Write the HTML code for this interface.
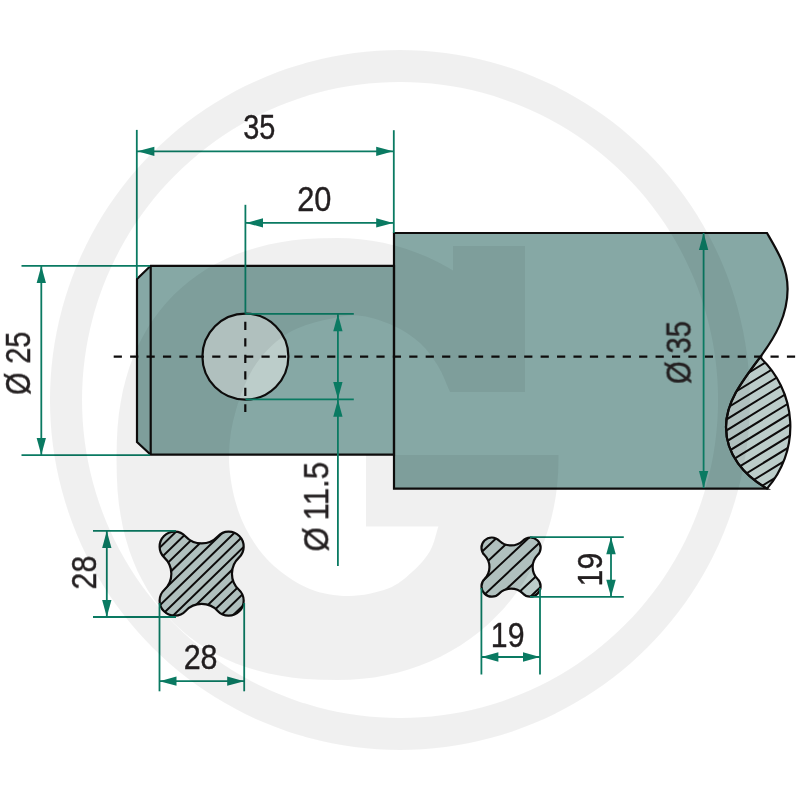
<!DOCTYPE html>
<html lang="en">
<head>
<meta charset="utf-8">
<title>Drawing</title>
<style>
html,body{margin:0;padding:0;background:#fff;}
body{width:800px;height:800px;overflow:hidden;}
svg{display:block;}
</style>
</head>
<body>
<svg width="800" height="800" viewBox="0 0 800 800">
<defs>
<clipPath id="cb"><path d="M217.71,536.39 A15.00,15.00 0 1 1 238.91,557.59 A22.00,22.00 0 0 0 238.91,589.71 A15.00,15.00 0 1 1 217.71,610.91 A22.00,22.00 0 0 0 185.59,610.91 A15.00,15.00 0 1 1 164.39,589.71 A22.00,22.00 0 0 0 164.39,557.59 A15.00,15.00 0 1 1 185.59,536.39 A22.00,22.00 0 0 0 217.71,536.39 Z"/></clipPath>
<clipPath id="cs"><path d="M522.82,540.72 A10.30,10.30 0 1 1 537.38,555.28 A17.00,17.00 0 0 0 537.38,578.82 A10.30,10.30 0 1 1 522.82,593.38 A17.00,17.00 0 0 0 499.28,593.38 A10.30,10.30 0 1 1 484.72,578.82 A17.00,17.00 0 0 0 484.72,555.28 A10.30,10.30 0 1 1 499.28,540.72 A17.00,17.00 0 0 0 522.82,540.72 Z"/></clipPath>
<clipPath id="cl"><path d="M760,357.3 A94.2,94.2 0 0 1 767,488.6 C744.4,475.6 726,455 726,427 C726,402 742,381.3 760,357.3 Z"/></clipPath>
</defs>
<rect width="800" height="800" fill="#fff"/>
<path d="M150.7,265.8 L394,265.8 L394,454.7 L150.7,454.7 L137,442 L137,279 Z" fill="#86a8a5"/>
<path d="M394,233 L767,233 C778,252 787.6,267 787.6,289 C787.6,315 775.6,336.5 760,357.3 C742,381.3 726,402 726,427 C726,455 744.4,475.6 767,488.6 L394,488.6 Z" fill="#86a8a5"/>
<circle cx="245.4" cy="356.6" r="43" fill="#bccdca"/>
<path d="M760,357.3 A94.2,94.2 0 0 1 767,488.6 C744.4,475.6 726,455 726,427 C726,402 742,381.3 760,357.3 Z" fill="#bccdca"/>
<path d="M217.71,536.39 A15.00,15.00 0 1 1 238.91,557.59 A22.00,22.00 0 0 0 238.91,589.71 A15.00,15.00 0 1 1 217.71,610.91 A22.00,22.00 0 0 0 185.59,610.91 A15.00,15.00 0 1 1 164.39,589.71 A22.00,22.00 0 0 0 164.39,557.59 A15.00,15.00 0 1 1 185.59,536.39 A22.00,22.00 0 0 0 217.71,536.39 Z" fill="#bccdca"/>
<path d="M522.82,540.72 A10.30,10.30 0 1 1 537.38,555.28 A17.00,17.00 0 0 0 537.38,578.82 A10.30,10.30 0 1 1 522.82,593.38 A17.00,17.00 0 0 0 499.28,593.38 A10.30,10.30 0 1 1 484.72,578.82 A17.00,17.00 0 0 0 484.72,555.28 A10.30,10.30 0 1 1 499.28,540.72 A17.00,17.00 0 0 0 522.82,540.72 Z" fill="#bccdca"/>
<g stroke="#0e0c0c" stroke-width="2" fill="none">
<path clip-path="url(#cb)" d="M94.36,564.83 L195.31,466.66 M100.14,570.78 L201.10,472.61 M105.93,576.73 L206.88,478.56 M111.72,582.68 L212.67,484.51 M117.50,588.63 L218.46,490.46 M123.29,594.58 L224.24,496.41 M129.08,600.53 L230.03,502.36 M134.86,606.48 L235.82,508.31 M140.65,612.43 L241.60,514.26 M146.44,618.38 L247.39,520.21 M152.22,624.33 L253.18,526.16 M158.01,630.28 L258.96,532.11 M163.79,636.23 L264.75,538.06 M169.58,642.18 L270.53,544.01 M175.37,648.13 L276.32,549.96 M181.15,654.08 L282.11,555.91 M186.94,660.04 L287.89,561.86 M192.73,665.99 L293.68,567.81 M198.51,671.94 L299.47,573.76 M204.30,677.89 L305.25,579.71 M210.09,683.84 L311.04,585.66"/>
<path clip-path="url(#cs)" d="M429.48,555.67 L504.81,484.93 M437.01,563.68 L512.34,492.94 M444.54,571.70 L519.87,500.96 M452.07,579.72 L527.40,508.98 M459.60,587.74 L534.93,517.00 M467.13,595.76 L542.46,525.02 M474.66,603.78 L549.99,533.04 M482.19,611.80 L557.52,541.06 M489.72,619.81 L565.05,549.07 M497.25,627.83 L572.58,557.09 M504.78,635.85 L580.11,565.11 M512.31,643.87 L587.64,573.13 M519.84,651.89 L595.17,581.15"/>
<path clip-path="url(#cl)" d="M644.15,392.69 L783.13,307.53 M649.06,400.71 L788.04,315.54 M653.97,408.72 L792.95,323.56 M658.88,416.74 L797.86,331.57 M663.80,424.75 L802.78,339.59 M668.71,432.77 L807.69,347.60 M673.62,440.78 L812.60,355.62 M678.53,448.80 L817.51,363.63 M683.44,456.81 L822.42,371.65 M688.35,464.83 L827.33,379.66 M693.26,472.84 L832.25,387.68 M698.18,480.86 L837.16,395.69 M703.09,488.87 L842.07,403.71 M708.00,496.89 L846.98,411.72 M712.91,504.90 L851.89,419.73 M717.82,512.92 L856.80,427.75 M722.73,520.93 L861.71,435.76 M727.65,528.95 L866.63,443.78 M732.56,536.96 L871.54,451.79 M737.47,544.98 L876.45,459.81 M742.38,552.99 L881.36,467.82"/>
</g>
<g stroke="#0e0c0c" stroke-width="2.2" fill="none" stroke-linejoin="miter">
<path d="M150.7,265.8 L394,265.8 L394,454.7 L150.7,454.7 L137,442 L137,279 Z"/>
<path d="M150.7,265.8 L150.7,454.7"/>
<path d="M394,233 L767,233 C778,252 787.6,267 787.6,289 C787.6,315 775.6,336.5 760,357.3 C742,381.3 726,402 726,427 C726,455 744.4,475.6 767,488.6 L394,488.6 Z"/>
<path d="M760,357.3 A94.2,94.2 0 0 1 767,488.6 C744.4,475.6 726,455 726,427 C726,402 742,381.3 760,357.3 Z"/>
<circle cx="245.4" cy="356.6" r="43"/>
<path d="M217.71,536.39 A15.00,15.00 0 1 1 238.91,557.59 A22.00,22.00 0 0 0 238.91,589.71 A15.00,15.00 0 1 1 217.71,610.91 A22.00,22.00 0 0 0 185.59,610.91 A15.00,15.00 0 1 1 164.39,589.71 A22.00,22.00 0 0 0 164.39,557.59 A15.00,15.00 0 1 1 185.59,536.39 A22.00,22.00 0 0 0 217.71,536.39 Z"/>
<path d="M522.82,540.72 A10.30,10.30 0 1 1 537.38,555.28 A17.00,17.00 0 0 0 537.38,578.82 A10.30,10.30 0 1 1 522.82,593.38 A17.00,17.00 0 0 0 499.28,593.38 A10.30,10.30 0 1 1 484.72,578.82 A17.00,17.00 0 0 0 484.72,555.28 A10.30,10.30 0 1 1 499.28,540.72 A17.00,17.00 0 0 0 522.82,540.72 Z"/>
</g>
<g stroke="#0e0c0c" stroke-width="2.2" fill="none">
<path stroke-dasharray="8.2 8.22" d="M113.7,356.7 L796,356.7"/>
<path stroke-dasharray="8.25 8.25" d="M245.3,321.75 L245.3,412"/>
</g>
<g stroke="#0a7a62" stroke-width="1.8" fill="none">
<path d="M136.8,129.9 L136.8,278"/>
<path d="M393.8,130.2 L393.8,233"/>
<path d="M137,151.3 L393.5,151.3"/>
<path d="M245.4,204.8 L245.4,313.6"/>
<path d="M246,222.9 L393.5,222.9"/>
<path d="M21.5,265.9 L150,265.9"/>
<path d="M21.5,455.1 L150,455.1"/>
<path d="M41.3,266 L41.3,455"/>
<path d="M245.5,313.8 L353.8,313.8"/>
<path d="M245.5,399.3 L353.8,399.3"/>
<path d="M337.9,313.8 L337.9,566"/>
<path d="M703.6,233 L703.6,488"/>
<path d="M93,530.8 L176,530.8"/>
<path d="M93,617 L176,617"/>
<path d="M106.8,531 L106.8,617"/>
<path d="M159.5,603 L159.5,691.3"/>
<path d="M244.2,603 L244.2,691.3"/>
<path d="M159.5,681.2 L244.2,681.2"/>
<path d="M530,537.2 L623.8,537.2"/>
<path d="M530,596.8 L623.8,596.8"/>
<path d="M611,537 L611,597"/>
<path d="M481.4,588 L481.4,674.5"/>
<path d="M540,588 L540,674.5"/>
<path d="M481.4,657 L540,657"/>
</g>
<g fill="#0a7a62">
<polygon points="137.40,151.30 154.40,146.65 154.40,155.95"/>
<polygon points="393.20,151.30 376.20,146.65 376.20,155.95"/>
<polygon points="246.00,222.90 263.00,218.25 263.00,227.55"/>
<polygon points="393.20,222.90 376.20,218.25 376.20,227.55"/>
<polygon points="41.30,266.00 36.65,283.00 45.95,283.00"/>
<polygon points="41.30,455.00 36.65,438.00 45.95,438.00"/>
<polygon points="337.90,314.20 333.25,331.20 342.55,331.20"/>
<polygon points="337.90,398.90 333.25,381.90 342.55,381.90"/>
<polygon points="337.90,399.70 333.25,416.70 342.55,416.70"/>
<polygon points="703.60,233.00 698.95,250.00 708.25,250.00"/>
<polygon points="703.60,488.00 698.95,471.00 708.25,471.00"/>
<polygon points="106.80,531.00 102.15,548.00 111.45,548.00"/>
<polygon points="106.80,617.00 102.15,600.00 111.45,600.00"/>
<polygon points="159.50,681.20 176.50,676.55 176.50,685.85"/>
<polygon points="244.20,681.20 227.20,676.55 227.20,685.85"/>
<polygon points="611.00,537.20 606.25,554.20 615.75,554.20"/>
<polygon points="611.00,596.80 606.25,579.80 615.75,579.80"/>
<polygon points="481.40,657.00 498.40,652.35 498.40,661.65"/>
<polygon points="540.00,657.00 523.00,652.35 523.00,661.65"/>
</g>
<g fill="#231f20" font-family="'Liberation Sans', sans-serif" font-size="35" stroke="#231f20" stroke-width="0.4" opacity="0.999">
<text transform="translate(243.26,138.75) scale(0.825,1)">35</text>
<text transform="translate(297.15,210.55) scale(0.878,1)">20</text>
<text transform="translate(183.65,668.95) scale(0.871,1)">28</text>
<text transform="translate(490.85,647.15) scale(0.863,1)">19</text>
<text transform="translate(30.02,394.84) rotate(-90) scale(0.823,1)">Ø<tspan x="28.19"> 25</tspan></text>
<text transform="translate(328.23,551.62) rotate(-90) scale(0.893,1)">Ø<tspan x="25.26"> 11.5</tspan></text>
<text transform="translate(690.57,383.91) rotate(-90) scale(0.836,1)">Ø<tspan x="26.76"> 35</tspan></text>
<text transform="translate(96.04,589.40) rotate(-90) scale(0.864,1)">28</text>
<text transform="translate(602.12,586.40) rotate(-90) scale(0.866,1)">19</text>
</g>
<g fill="#000" fill-opacity="0.06">
<path fill-rule="evenodd" d="M400,50 A350,350 0 1 1 399.9,50 Z M400,82 A318,318 0 1 0 400.1,82 Z"/>
<path d="M453,270.6 L453,246 L525,246 L525,392 L450,392 C446.0,383.3 443.0,374.2 438.0,366.0 C433.0,357.8 427.3,349.7 420.0,343.0 C412.7,336.3 403.7,330.5 394.0,326.0 C384.3,321.5 372.0,317.3 362.0,316.0 C352.0,314.7 346.0,315.3 334.0,318.0 C322.0,320.7 303.0,324.3 290.0,332.0 C277.0,339.7 265.0,351.0 256.0,364.0 C247.0,377.0 240.5,394.8 236.0,410.0 C231.5,425.2 229.2,440.0 229.0,455.0 C228.8,470.0 231.5,486.5 235.0,500.0 C238.5,513.5 243.5,525.0 250.0,536.0 C256.5,547.0 264.0,557.2 274.0,566.0 C284.0,574.8 297.5,584.0 310.0,589.0 C322.5,594.0 336.0,596.1 349.0,596.0 C362.0,595.9 377.5,592.5 388.0,588.5 C398.5,584.5 405.0,578.2 412.0,572.0 C419.0,565.8 425.6,558.6 430.0,551.0 C434.4,543.4 435.6,534.7 438.4,526.5 L366,526.5 L366,455 L558.5,455 L558.5,459.0 L558.2,471.8 L557.3,483.9 L555.9,495.8 L553.8,507.5 L551.2,518.9 L548.0,530.1 L544.3,541.0 L540.0,551.7 L535.2,562.0 L529.8,572.1 L524.0,581.9 L517.6,591.3 L510.7,600.3 L503.4,608.9 L495.6,617.1 L487.4,624.9 L478.8,632.2 L469.8,639.1 L460.4,645.5 L450.6,651.3 L440.5,656.7 L430.2,661.5 L419.5,665.8 L408.6,669.5 L397.4,672.7 L386.0,675.3 L374.3,677.4 L362.4,678.8 L350.3,679.7 L337.5,680.0 L320.1,679.7 L306.0,679.0 L292.8,677.7 L280.4,675.8 L268.6,673.5 L257.2,670.6 L246.3,667.3 L235.7,663.4 L225.6,659.1 L215.9,654.2 L206.6,648.9 L197.7,643.1 L189.2,636.8 L181.2,630.1 L173.6,622.9 L166.4,615.3 L159.7,607.3 L153.4,598.8 L147.6,589.9 L142.3,580.6 L137.4,570.9 L133.1,560.8 L129.2,550.2 L125.9,539.3 L123.0,527.9 L120.7,516.1 L118.8,503.7 L117.5,490.5 L116.8,476.4 L116.5,459.0 L116.8,441.6 L117.5,427.5 L118.8,414.3 L120.7,401.9 L123.0,390.1 L125.9,378.7 L129.2,367.8 L133.1,357.2 L137.4,347.1 L142.3,337.4 L147.6,328.1 L153.4,319.2 L159.7,310.7 L166.4,302.7 L173.6,295.1 L181.2,287.9 L189.2,281.2 L197.7,274.9 L206.6,269.1 L215.9,263.8 L225.6,258.9 L235.7,254.6 L246.3,250.7 L257.2,247.4 L268.6,244.5 L280.4,242.2 L292.8,240.3 L306.0,239.0 L320.1,238.3 L337.5,238.0 L349.1,238.3 L360.6,239.2 L372.1,240.7 L383.4,242.8 L394.7,245.5 L405.8,248.8 L416.7,252.7 L427.4,257.1 L437.8,262.1 L448.0,267.6 L453,270.6 Z"/>
</g>
</svg>
</body>
</html>
